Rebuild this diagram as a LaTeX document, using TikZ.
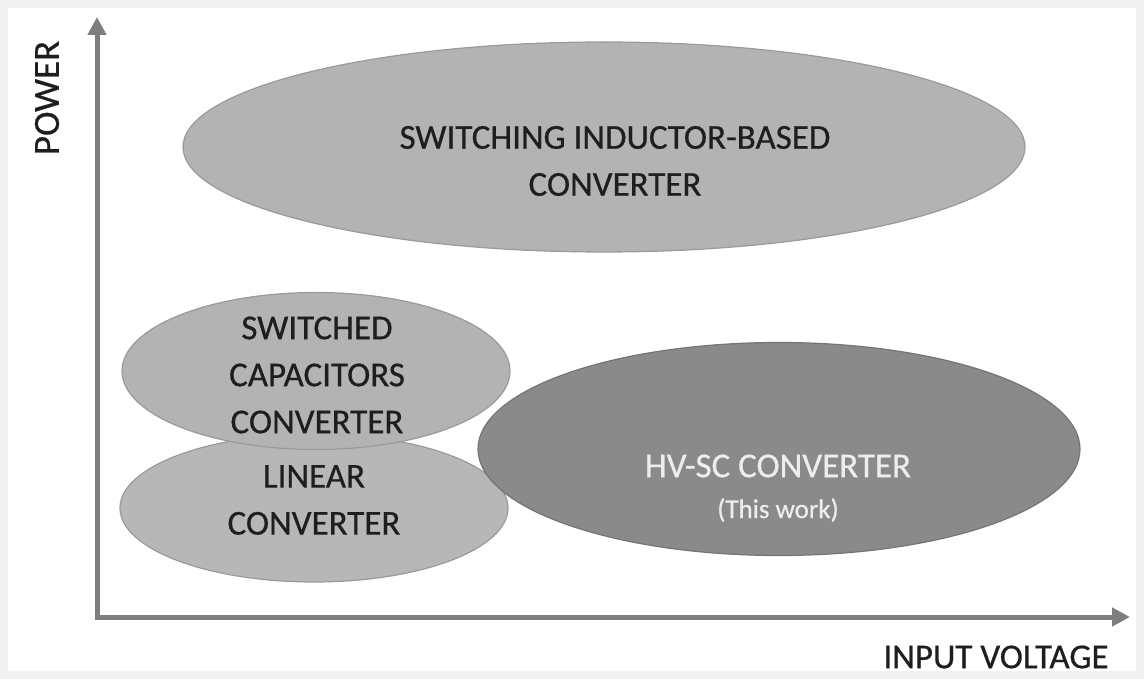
\documentclass[tikz,border=0pt]{standalone}
\usepackage{fontspec}
\setmainfont{Carlito}[FakeBold=0.6]
\usetikzlibrary{shapes.geometric,arrows.meta}
\definecolor{frame}{HTML}{F1F1F1}
\definecolor{axisgray}{HTML}{7E7E7E}
\definecolor{lightfill}{HTML}{B3B3B3}
\definecolor{darkfill}{HTML}{8A8A8A}
\definecolor{edgegray}{HTML}{9A9A9A}
\definecolor{ink}{HTML}{1E1E1E}
\tikzset{
  region/.style={ellipse, fill=lightfill, draw=edgegray, line width=1.2pt, inner sep=0pt},
  darkregion/.style={ellipse, fill=darkfill, draw=darkfill!85!black, line width=1.2pt, inner sep=0pt},
  label/.style={align=center, font=\fontsize{35}{47}\selectfont, text=ink},
  axis/.style={draw=axisgray, line width=5pt, -{Triangle[length=18pt,width=18pt]}},
}
\begin{document}
\begin{tikzpicture}[x=1pt,y=-1pt]
\fill[frame] (0,0) rectangle (1144,679);
\fill[white] (8,8) rectangle (1136,671);
\useasboundingbox (0,0) rectangle (1144,679);
% regions
\node[region, minimum width=842pt, minimum height=210pt] (sib) at (604,147) {};
\node[region, fill=lightfill!95!white, minimum width=388pt, minimum height=148pt] (lin) at (314,508) {};
\node[region, minimum width=388pt, minimum height=157pt] (swc) at (316,371) {};
\node[darkregion, minimum width=602pt, minimum height=213pt] (hv) at (779,449) {};
% texts
\node[label] (tsib) at (615,161) {SWITCHING INDUCTOR-BASED\\CONVERTER};
\node[label] (tswc) at (317,375) {SWITCHED\\CAPACITORS\\CONVERTER};
\node[label] (tlin) at (314,500) {LINEAR\\CONVERTER};
\node[font=\fontsize{35}{36}\selectfont, text=white!93!black] (thv) at (778,466) {HV-SC CONVERTER};
\node[font=\fontsize{27}{28}\selectfont, text=white!93!black] (thw) at (778,510) {(This work)};
% axes
\coordinate (o) at (97,617);
\coordinate (ytip) at (97,17);
\coordinate (xtip) at (1130,617);
\draw[axis] (o) -- (ytip);
\draw[axis] ([xshift=-2.5pt]o) -- (xtip);
\node[font=\fontsize{37}{38}\selectfont, text=ink, rotate=90] (py) at (47,98) {POWER};
\node[font=\fontsize{35}{36}\selectfont, text=ink] (px) at (996,657) {INPUT VOLTAGE};
\end{tikzpicture}
\end{document}
